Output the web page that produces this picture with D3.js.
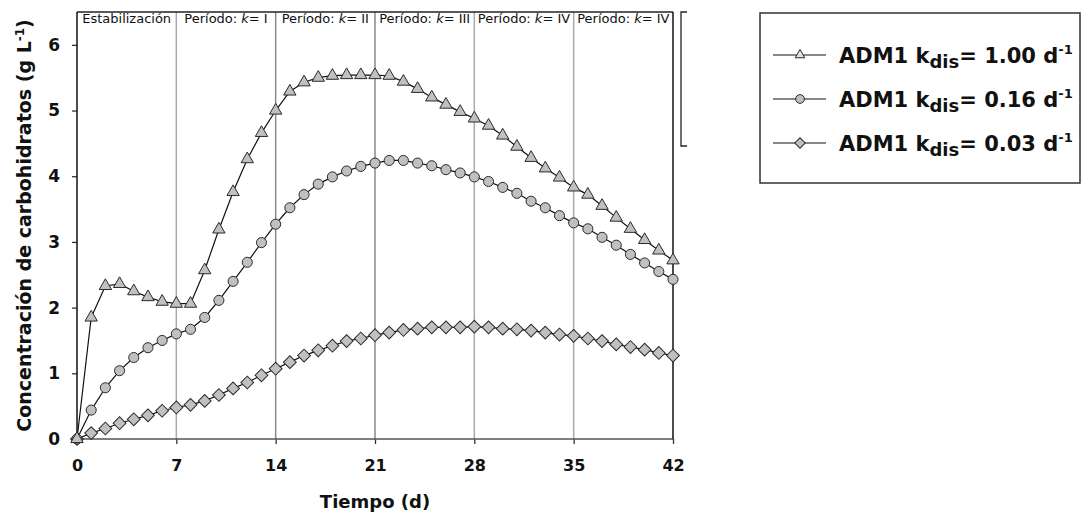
<!DOCTYPE html>
<html>
<head>
<meta charset="utf-8">
<script src="https://cdn.jsdelivr.net/npm/d3@7"></script>
<style>
  body { margin: 0; background: #fff; }
  svg { display: block; }
  text { font-family: "DejaVu Sans", sans-serif; fill: #111; }
</style>
</head>
<body>
<div id="vis"></div>
<script>
// days (x categories)
var days = [0, 1, 2, 3, 4, 5, 6, 7, 8, 9, 10, 11, 12, 13, 14, 15, 16, 17, 18, 19, 20,
  21, 22, 23, 24, 25, 26, 27, 28, 29, 30, 31, 32, 33, 34, 35, 36, 37, 38, 39, 40, 41, 42];

// carbohydrate concentration, g/L, one value per day
var kdis100 = [0, 1.85, 2.33, 2.36, 2.25, 2.16, 2.09, 2.06, 2.06, 2.57,
  3.19, 3.76, 4.26, 4.66, 5.00, 5.29, 5.43, 5.50, 5.53, 5.54,
  5.54, 5.54, 5.53, 5.44, 5.33, 5.20, 5.09, 4.98, 4.88, 4.77,
  4.62, 4.45, 4.28, 4.12, 3.98, 3.83, 3.72, 3.55, 3.37, 3.20,
  3.03, 2.87, 2.72];
var kdis016 = [0, 0.44, 0.78, 1.04, 1.24, 1.39, 1.50, 1.60, 1.67, 1.85,
  2.11, 2.40, 2.69, 2.99, 3.27, 3.52, 3.72, 3.88, 3.99, 4.08,
  4.15, 4.20, 4.24, 4.24, 4.20, 4.16, 4.10, 4.05, 3.99, 3.92,
  3.83, 3.74, 3.62, 3.52, 3.40, 3.29, 3.20, 3.07, 2.95, 2.81,
  2.68, 2.55, 2.43];
var kdis003 = [0, 0.09, 0.16, 0.24, 0.30, 0.36, 0.43, 0.48, 0.52, 0.58,
  0.67, 0.77, 0.86, 0.97, 1.07, 1.17, 1.27, 1.35, 1.42, 1.49,
  1.53, 1.58, 1.62, 1.66, 1.68, 1.70, 1.70, 1.70, 1.71, 1.70,
  1.68, 1.67, 1.65, 1.62, 1.59, 1.57, 1.53, 1.49, 1.44, 1.40,
  1.36, 1.31, 1.27];

// tick labels
var xTicks = [0, 7, 14, 21, 28, 35, 42];
var yTicks = [0, 1, 2, 3, 4, 5, 6];

// period boundaries and labels along the top
var periodStarts = [0, 7, 14, 21, 28, 35];
var periodRoman = [null, "I", "II", "III", "IV", "IV"];

// legend values
var kdisLabels = ["1.00", "0.16", "0.03"];

var width = 1083;
var height = 516;
var margin = { top: 12, left: 77, bottom: 77, right: 410 };

var svg = d3.select("#vis").append("svg")
  .attr("width", width)
  .attr("height", height);

var x = d3.scaleLinear().domain([0, 42]).range([margin.left, width - margin.right]);
var y = d3.scaleLinear().domain([0, 6.5]).range([height - margin.bottom, margin.top]);

var x0 = x(0), x1 = x(42), yb = y(0), yt = y(6.5);

// period divider lines
var dividerColor = { 7: "#aaa", 14: "#8a8a8a", 21: "#8a8a8a", 28: "#aaa", 35: "#aaa" };
svg.append("g")
  .selectAll("line")
  .data(periodStarts.slice(1))
  .join("line")
  .attr("x1", function (d) { return x(d); })
  .attr("x2", function (d) { return x(d); })
  .attr("y1", yt)
  .attr("y2", yb)
  .attr("stroke", function (d) { return dividerColor[d]; })
  .attr("stroke-width", 1.5);

// period labels
var labels = svg.append("g")
  .selectAll("text")
  .data(periodStarts)
  .join("text")
  .attr("x", function (d) { return x(d + 3.5); })
  .attr("y", 23)
  .attr("text-anchor", "middle")
  .style("font-size", "13px");

labels.each(function (d, i) {
  var t = d3.select(this);
  if (periodRoman[i] === null) {
    t.text("Estabilización");
  } else {
    t.append("tspan").text("Período: ");
    t.append("tspan").style("font-style", "italic").text("k");
    t.append("tspan").text("= " + periodRoman[i]);
  }
});

// x axis
var xAxis = d3.axisBottom(x).tickValues(xTicks).tickFormat(d3.format("d"))
  .tickSize(5).tickPadding(16);
var gx = svg.append("g")
  .attr("transform", "translate(0," + yb + ")")
  .call(xAxis);
gx.select(".domain").remove();
gx.selectAll(".tick line").attr("stroke", "#333").attr("stroke-width", 1.3);
gx.selectAll(".tick text")
  .style("font-size", "16px")
  .style("font-weight", "bold")
  .attr("fill", "#111");

// y axis
var yAxis = d3.axisLeft(y).tickValues(yTicks).tickFormat(d3.format("d"))
  .tickSize(5).tickPadding(12);
var gy = svg.append("g")
  .attr("transform", "translate(" + x0 + ",0)")
  .call(yAxis);
gy.select(".domain").remove();
gy.selectAll(".tick line").attr("stroke", "#333").attr("stroke-width", 1.3);
gy.selectAll(".tick text")
  .style("font-size", "17px")
  .style("font-weight", "bold")
  .attr("fill", "#111");

// frame
svg.append("line").attr("x1", x0).attr("x2", x1).attr("y1", yb).attr("y2", yb)
  .attr("stroke", "#555").attr("stroke-width", 1.5);
svg.append("line").attr("x1", x0).attr("x2", x1).attr("y1", yt).attr("y2", yt)
  .attr("stroke", "#222").attr("stroke-width", 1.3);
svg.append("line").attr("x1", x0).attr("x2", x0).attr("y1", yt).attr("y2", yb)
  .attr("stroke", "#111").attr("stroke-width", 1.5);
svg.append("line").attr("x1", x1).attr("x2", x1).attr("y1", yt).attr("y2", yb)
  .attr("stroke", "#111").attr("stroke-width", 1.5);

// leftover bracket right of the plot
svg.append("path")
  .attr("d", "M" + (x1 + 14) + "," + yt + "H" + (x1 + 8) + "V" + 146 + "H" + (x1 + 14))
  .attr("fill", "none")
  .attr("stroke", "#222")
  .attr("stroke-width", 1.3);

// series
var series = [
  { values: kdis100, symbol: d3.symbol(d3.symbolTriangle, 66), rot: 0 },
  { values: kdis016, symbol: d3.symbol(d3.symbolCircle, 80), rot: 0 },
  { values: kdis003, symbol: d3.symbol(d3.symbolSquare, 82), rot: 45 }
];

var line = d3.line()
  .x(function (d) { return x(d[0]); })
  .y(function (d) { return y(d[1]); });

series.slice().reverse().forEach(function (s) {
  var pts = days.map(function (d, i) { return [d, s.values[i]]; });
  svg.append("path")
    .datum(pts)
    .attr("d", line)
    .attr("fill", "none")
    .attr("stroke", "#111")
    .attr("stroke-width", 1.2);

  svg.append("g")
    .selectAll("path")
    .data(pts)
    .join("path")
    .attr("d", s.symbol)
    .attr("transform", function (d) {
      return "translate(" + x(d[0]) + "," + y(d[1]) + ") rotate(" + s.rot + ")";
    })
    .attr("fill", "#c0c0c0")
    .attr("stroke", "#2a2a2a")
    .attr("stroke-width", 1);
});

// axis titles
svg.append("text")
  .attr("x", (x0 + x1) / 2)
  .attr("y", 508)
  .attr("text-anchor", "middle")
  .style("font-size", "18px")
  .style("font-weight", "bold")
  .text("Tiempo (d)");

var yTitle = svg.append("text")
  .attr("transform", "translate(31," + ((yt + yb) / 2) + ") rotate(-90)")
  .attr("text-anchor", "middle")
  .style("font-size", "19px")
  .style("font-weight", "bold");
yTitle.append("tspan").text("Concentración de carbohidratos (g L");
yTitle.append("tspan").attr("dy", -7).style("font-size", "12px").text("-1");
yTitle.append("tspan").attr("dy", 7).text(")");

// legend
var legend = svg.append("g");
legend.append("rect")
  .attr("x", 760).attr("y", 13)
  .attr("width", 320).attr("height", 170)
  .attr("fill", "#fff")
  .attr("stroke", "#333")
  .attr("stroke-width", 1.5);

var legendSymbols = [
  { symbol: d3.symbol(d3.symbolTriangle, 40), rot: 0, fill: "#e2e2e2" },
  { symbol: d3.symbol(d3.symbolCircle, 60), rot: 0, fill: "#c0c0c0" },
  { symbol: d3.symbol(d3.symbolSquare, 55), rot: 45, fill: "#c0c0c0" }
];

var rows = legend.selectAll(".row")
  .data(kdisLabels)
  .join("g")
  .attr("class", "row")
  .attr("transform", function (d, i) { return "translate(0," + (55 + i * 44) + ")"; });

rows.append("line")
  .attr("x1", 773).attr("x2", 826)
  .attr("stroke", "#111").attr("stroke-width", 1.2);

rows.append("path")
  .attr("d", function (d, i) { return legendSymbols[i].symbol(); })
  .attr("transform", function (d, i) { return "translate(800,0) rotate(" + legendSymbols[i].rot + ")"; })
  .attr("fill", function (d, i) { return legendSymbols[i].fill; })
  .attr("stroke", "#2a2a2a");

var rowText = rows.append("text")
  .attr("x", 839)
  .attr("y", 8)
  .style("font-size", "21px")
  .style("font-weight", "bold");
rowText.append("tspan").text("ADM1 k");
rowText.append("tspan").attr("dy", 5).style("font-size", "18px").text("dis");
rowText.append("tspan").attr("dy", -5).text(function (d) { return "= " + d + " d"; });
rowText.append("tspan").attr("dy", -9).style("font-size", "13px").text("-1");
</script>
</body>
</html>
